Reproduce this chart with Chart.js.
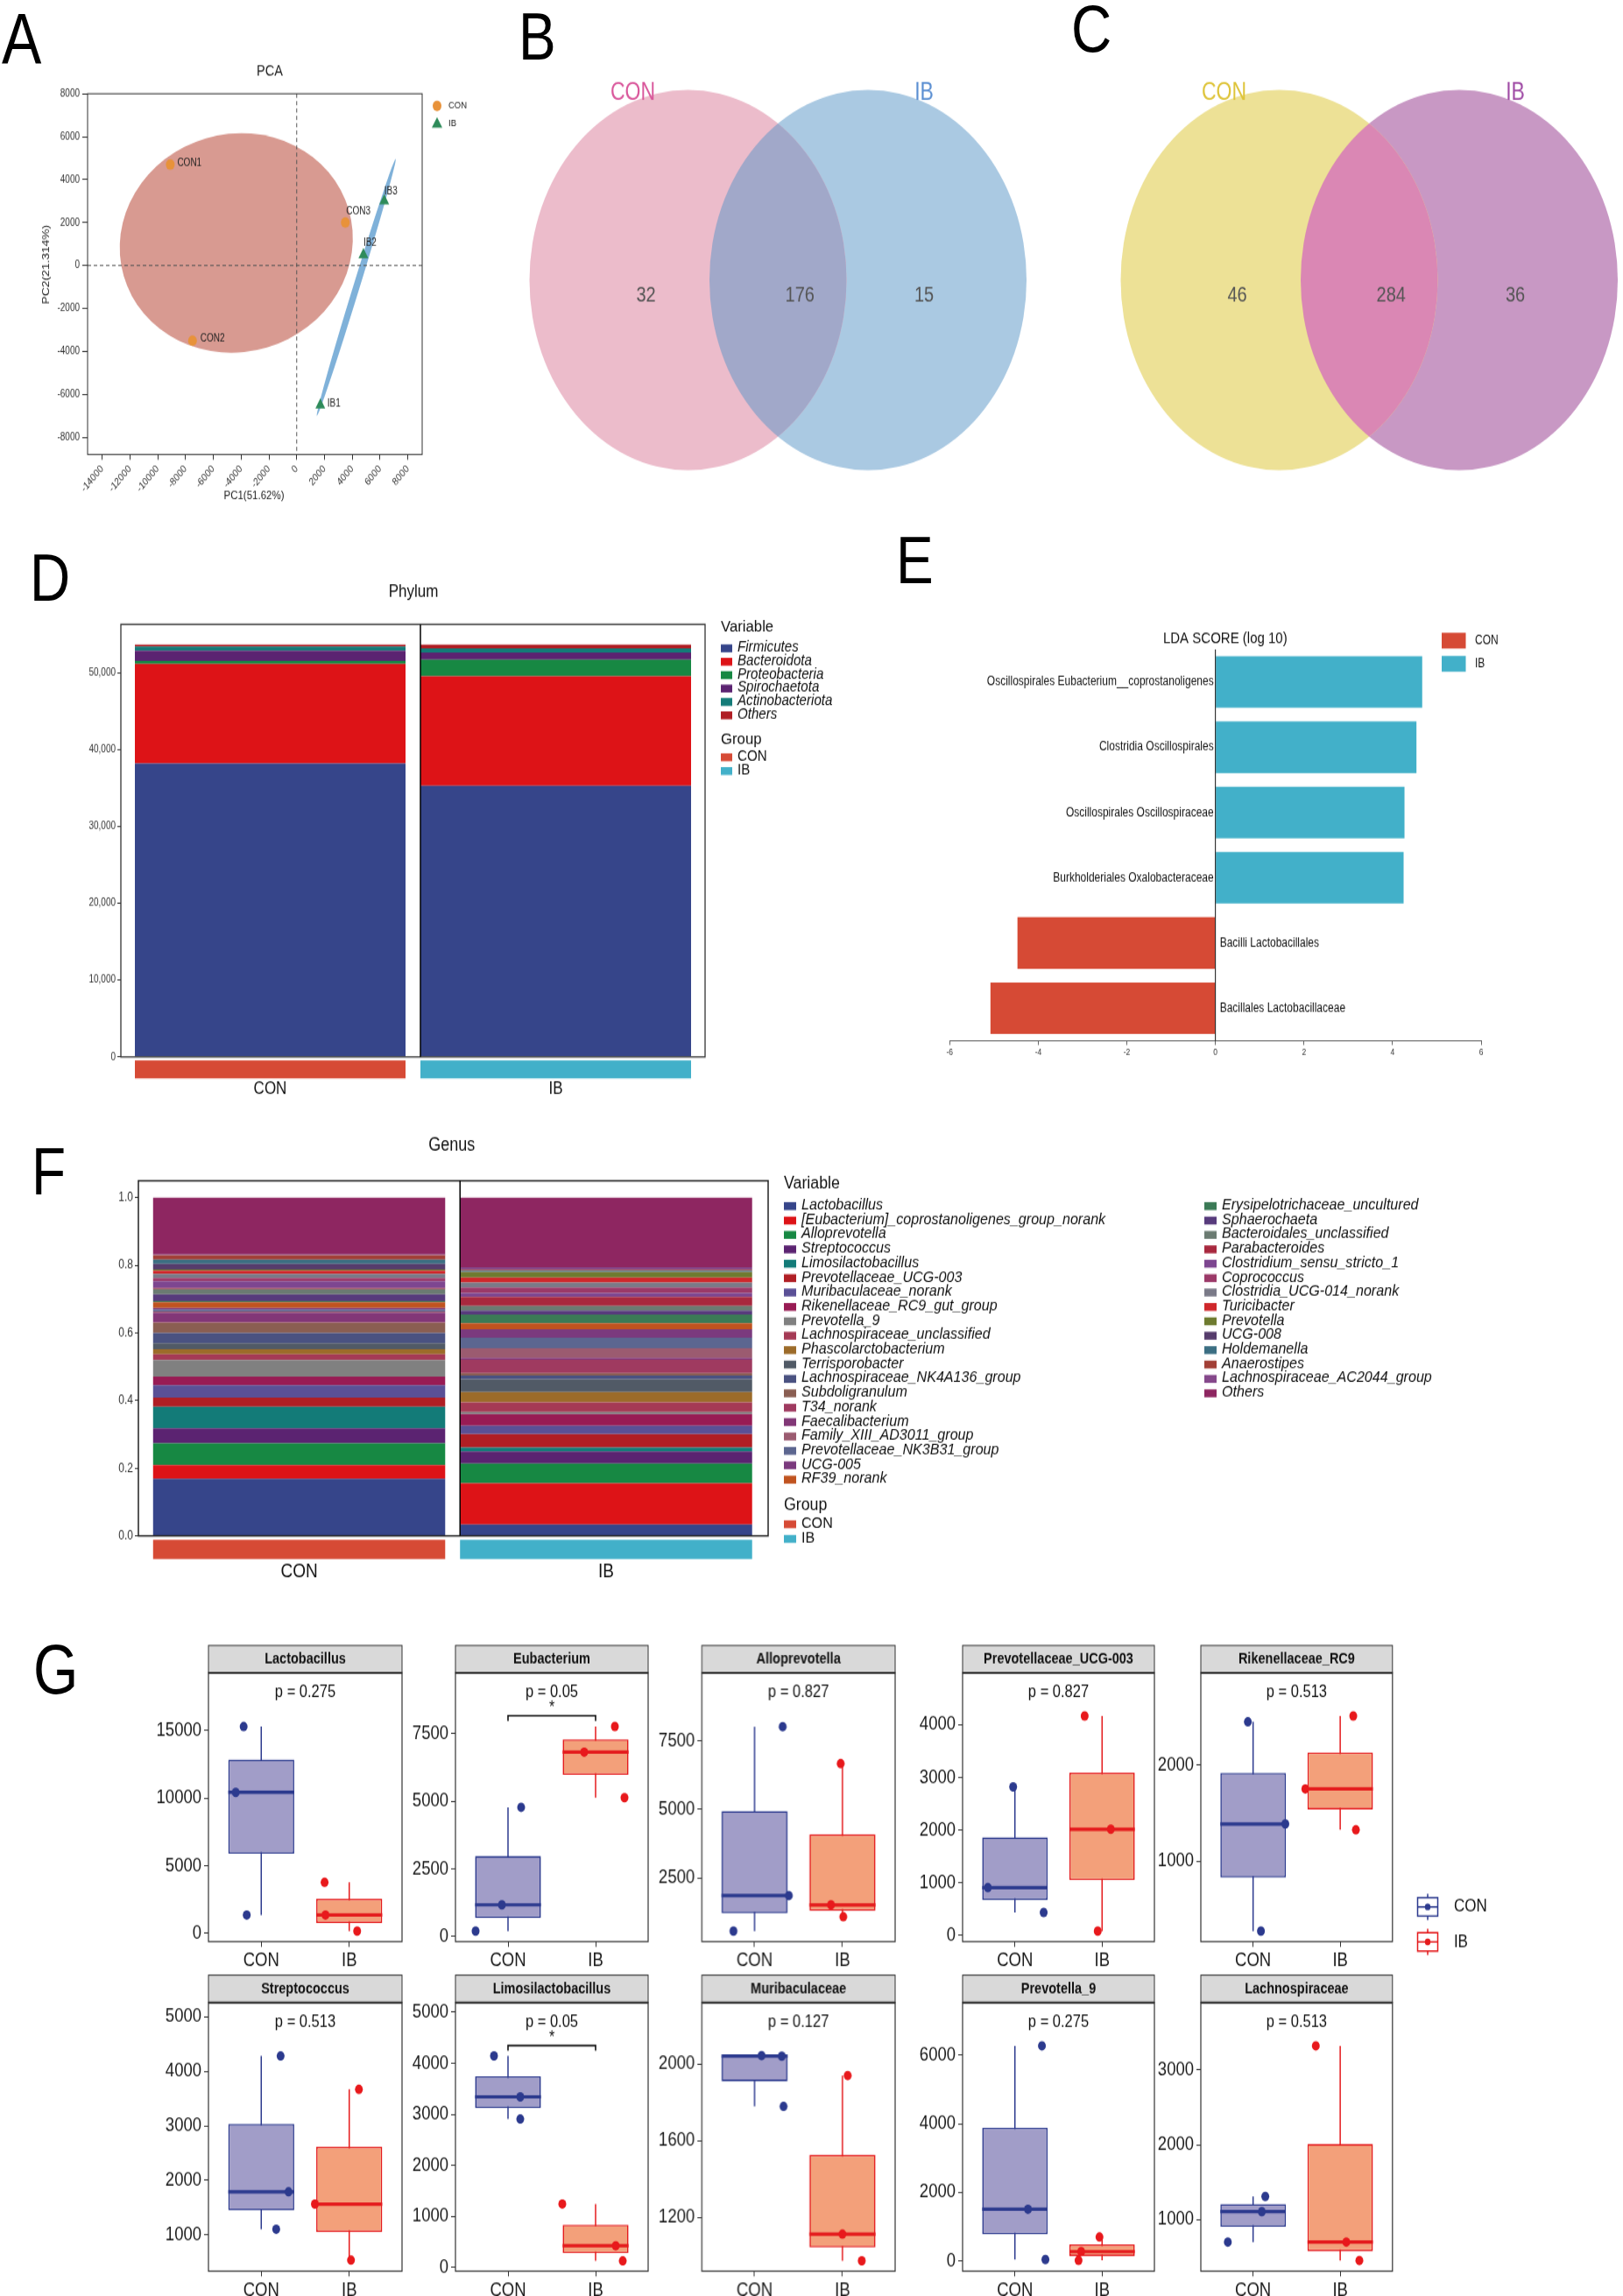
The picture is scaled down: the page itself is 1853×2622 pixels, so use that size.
<!DOCTYPE html>
<html>
<head>
<meta charset="utf-8">
<script src="https://cdn.jsdelivr.net/npm/chart.js@4.4.1/dist/chart.umd.min.js"></script>
<style>
  html, body { margin: 0; padding: 0; background: #fff; }
  body { width: 1853px; height: 2622px; overflow: hidden; }
  #stage { position: relative; width: 1853px; height: 2185px; transform: scaleY(1.2); transform-origin: 0 0;
           font-family: 'Liberation Sans', Arial, sans-serif; }
  #stage canvas { position: absolute; }
  .lt { position: absolute; line-height: 1; color: #000; }
</style>
</head>
<body>
<div id="stage"></div>
<script>
// ---------- data ----------
const groups = ['CON', 'IB'];

// A - PCA
const pcaCON = [[-9100, 4700], [-7500, -3500], [3500, 2000]];
const pcaIB = [[1700, -6500], [4800, 500], [6300, 3000]];
const pcaNamesCON = ['CON1', 'CON2', 'CON3'];
const pcaNamesIB = ['IB1', 'IB2', 'IB3'];
const pcaXTicks = [-14000, -12000, -10000, -8000, -6000, -4000, -2000, 0, 2000, 4000, 6000, 8000];
const pcaYTicks = [-8000, -6000, -4000, -2000, 0, 2000, 4000, 6000, 8000];
const pcaEllCON = [-4350, 1050, 8400, 5100, -5];   // centre x, centre y, half axis x, half axis y, tilt
const pcaEllIB = [1450, -7000, 7120, 4960, 230];   // ends of long axis, half width

// B, C - Venn counts (CON only, shared, IB only)
const vennB = [32, 176, 15];
const vennC = [46, 284, 36];

// D - phylum
const phylumNames = ['Firmicutes', 'Bacteroidota', 'Proteobacteria', 'Spirochaetota', 'Actinobacteriota', 'Others'];
const phylumCON = [38200, 12930, 390, 1320, 560, 240];
const phylumIB = [35270, 14250, 2180, 900, 570, 470];
const phylumTicks = [0, 10000, 20000, 30000, 40000, 50000];

// E - LEfSe
const ldaTaxa = ['Oscillospirales Eubacterium__coprostanoligenes', 'Clostridia Oscillospirales',
  'Oscillospirales Oscillospiraceae', 'Burkholderiales Oxalobacteraceae', 'Bacilli Lactobacillales',
  'Bacillales Lactobacillaceae'];
const ldaScore = [4.67, 4.54, 4.27, 4.25, -4.47, -5.08];
const ldaGroup = ['IB', 'IB', 'IB', 'IB', 'CON', 'CON'];
const ldaTicks = [-6, -4, -2, 0, 2, 4, 6];

// F - genus
const genusNames = ['Lactobacillus', '[Eubacterium]_coprostanoligenes_group_norank', 'Alloprevotella', 'Streptococcus',
  'Limosilactobacillus', 'Prevotellaceae_UCG-003', 'Muribaculaceae_norank', 'Rikenellaceae_RC9_gut_group',
  'Prevotella_9', 'Lachnospiraceae_unclassified', 'Phascolarctobacterium', 'Terrisporobacter',
  'Lachnospiraceae_NK4A136_group', 'Subdoligranulum', 'T34_norank', 'Faecalibacterium',
  'Family_XIII_AD3011_group', 'Prevotellaceae_NK3B31_group', 'UCG-005', 'RF39_norank',
  'Erysipelotrichaceae_uncultured', 'Sphaerochaeta', 'Bacteroidales_unclassified', 'Parabacteroides',
  'Clostridium_sensu_stricto_1', 'Coprococcus', 'Clostridia_UCG-014_norank', 'Turicibacter', 'Prevotella',
  'UCG-008', 'Holdemanella', 'Anaerostipes', 'Lachnospiraceae_AC2044_group', 'Others'];
const genusCON = [0.169, 0.040, 0.065, 0.044, 0.064, 0.027, 0.036, 0.026, 0.049, 0.017, 0.015, 0.018, 0.030, 0.030,
  0.002, 0.028, 0.004, 0.005, 0.005, 0.017, 0.004, 0.019, 0.016, 0.003, 0.020, 0.009, 0.013, 0.009, 0.004, 0.016,
  0.013, 0.013, 0.002, 0.168];
const genusIB = [0.034, 0.122, 0.058, 0.036, 0.011, 0.040, 0.025, 0.034, 0.006, 0.029, 0.030, 0.038, 0.011, 0.007,
  0.040, 0.005, 0.029, 0.031, 0.025, 0.018, 0.025, 0.012, 0.014, 0.026, 0.012, 0.016, 0.015, 0.015, 0.016, 0.002,
  0.002, 0.003, 0.007, 0.206];
const genusTicks = [0, 0.2, 0.4, 0.6, 0.8, 1.0];

// G - box plots (three samples per group)
const gTitles = ['Lactobacillus', 'Eubacterium', 'Alloprevotella', 'Prevotellaceae_UCG-003', 'Rikenellaceae_RC9',
  'Streptococcus', 'Limosilactobacillus', 'Muribaculaceae', 'Prevotella_9', 'Lachnospiraceae'];
const gP = ['0.275', '0.05', '0.827', '0.827', '0.513', '0.513', '0.05', '0.127', '0.275', '0.513'];
const gStar = [false, true, false, false, false, false, true, false, false, false];
const gCON = [[15300, 10430, 1360], [4773, 1166, 194], [8018, 1860, 562], [2820, 909, 438], [2449, 1386, 271],
  [4278, 1791, 1107], [4144, 3343, 2909], [2043, 2040, 1778], [6270, 1506, 41], [1308, 1105, 698]];
const gIB = [[3775, 1360, 170], [7762, 6813, 5129], [6669, 1519, 1085], [4167, 2017, 83], [2510, 1751, 1325],
  [3667, 1566, 540], [1246, 429, 131], [1939, 1113, 974], [697, 271, 15], [3323, 698, 452]];
const gJitCON = [[-0.20, -0.29, -0.165], [0.15, -0.07, -0.37], [0.32, 0.39, -0.24], [-0.02, -0.31, 0.33],
  [-0.06, 0.37, 0.09], [0.22, 0.31, 0.17], [-0.16, 0.14, 0.14], [0.08, 0.31, 0.33], [0.31, 0.15, 0.35],
  [0.14, 0.10, -0.29]];
const gJitIB = [[-0.28, -0.27, 0.09], [0.22, -0.13, 0.33], [-0.02, -0.13, 0.01], [-0.20, 0.10, -0.05],
  [0.15, -0.40, 0.18], [0.11, -0.39, 0.02], [-0.38, 0.23, 0.31], [0.06, 0.0, 0.22], [-0.03, -0.24, -0.27],
  [-0.28, 0.07, 0.22]];
const gYmin = [-608, -194, 179, -116, 161, 338, -69, 920, -299, 309];
const gYmax = [19275, 9747, 9981, 4986, 2960, 5257, 5189, 2319, 7532, 3902];
const gTicks = [[0, 5000, 10000, 15000], [0, 2500, 5000, 7500], [2500, 5000, 7500], [0, 1000, 2000, 3000, 4000],
  [1000, 2000], [1000, 2000, 3000, 4000, 5000], [0, 1000, 2000, 3000, 4000, 5000], [1200, 1600, 2000],
  [0, 2000, 4000, 6000], [1000, 2000, 3000]];

// ---------- styles ----------
const phylumColors = ['#36458A', '#DD1317', '#178843', '#5B2371', '#137B78', '#B01E24'];
const genusColors = ['#36458A', '#DD1317', '#178843', '#5B2371', '#137B78', '#B01E24', '#5A5096', '#981B54',
  '#808080', '#A53A55', '#9C6B29', '#515A66', '#4A5281', '#8A5E52', '#9F3A60', '#823777', '#9B5B70', '#5C6690',
  '#7B3A7E', '#C0531F', '#3B7A56', '#573B7C', '#6B7B72', '#A8283E', '#7D4690', '#9B3968', '#7A7A88', '#CF272B',
  '#6E7B2F', '#563C6C', '#3B6E82', '#A23F36', '#85488B', '#8E2661'];
const grpColor = { CON: '#D64A35', IB: '#42B0C9' };
const conLine = '#2C3A8E', conFill = '#A19DC8', ibLine = '#E41A1C', ibFill = '#F3A07A';

const K = 1.2;   // the figure is stretched a little in height
const FF = "'Liberation Sans', Arial, sans-serif";
const stage = document.getElementById('stage');
Chart.defaults.font.family = FF;
Chart.defaults.color = '#222';

function letter(ch, x, capTop, fs) {
  const d = document.createElement('div');
  d.className = 'lt';
  d.textContent = ch;
  d.style.left = x + 'px';
  d.style.top = (capTop / K - 0.13 * fs) + 'px';
  d.style.fontSize = fs + 'px';
  stage.appendChild(d);
}

// hs: horizontal stretch of the text
function txt(ctx, s, x, y, font, color, align, base, hs) {
  ctx.save();
  ctx.font = font + ' ' + FF;
  ctx.fillStyle = color || '#222';
  ctx.textAlign = align || 'center';
  ctx.textBaseline = base || 'middle';
  ctx.translate(x, y);
  if (hs) ctx.scale(hs, 1);
  ctx.fillText(s, 0, 0);
  ctx.restore();
}

const fixTicks = arr => s => { s.ticks = arr.map(v => ({ value: v })); };

function axis(min, max, ticks, size, tickOpts, more) {
  return Object.assign({
    type: 'linear', min, max, offset: false, beginAtZero: false,
    afterBuildTicks: fixTicks(ticks),
    ticks: Object.assign({ font: { size }, color: '#222', autoSkip: false, padding: 3, callback: v => String(v) }, tickOpts || {}),
    grid: { drawOnChartArea: false, drawTicks: true, tickLength: 5, color: '#333', offset: false },
    border: { display: false }
  }, more || {});
}

// rect and area in page pixels: [x, y, w, h]
function make(rect, area, cfg, hooks) {
  const [rx, ry, rw, rh] = rect, [ax, ay, aw, ah] = area;
  const c = document.createElement('canvas');
  const ih = Math.round(rh / K);
  c.width = rw; c.height = ih;
  c.style.left = rx + 'px'; c.style.top = (ry / K) + 'px';
  c.style.width = rw + 'px'; c.style.height = ih + 'px';
  stage.appendChild(c);
  const L = ax - rx, T = (ay - ry) / K, R = rx + rw - ax - aw, B = ih - (ay + ah - ry) / K;
  const o = cfg.options = cfg.options || {};
  o.responsive = false; o.animation = false; o.devicePixelRatio = 1; o.events = [];
  o.layout = { autoPadding: false, padding: { left: 0, top: T, right: R, bottom: 0 } };
  o.plugins = { legend: { display: false }, tooltip: { enabled: false } };
  const sx = o.scales.x, sy = o.scales.y;
  if (sx.display === false) o.layout.padding.bottom = B;
  else sx.afterFit = s => { s.height = B; s.paddingLeft = 0; s.paddingRight = 0; };
  if (sy.display === false) o.layout.padding.left = L;
  else sy.afterFit = s => { s.width = L; s.paddingTop = 0; s.paddingBottom = 0; };
  const X = x => x - rx, Y = y => (y - ry) / K;
  cfg.plugins = [{
    id: 'deco',
    beforeDatasetsDraw(ch) { if (hooks.before) { ch.ctx.save(); hooks.before(ch.ctx, X, Y, ch); ch.ctx.restore(); } },
    afterDraw(ch) { if (hooks.after) { ch.ctx.save(); hooks.after(ch.ctx, X, Y, ch); ch.ctx.restore(); } }
  }];
  return new Chart(c, cfg);
}

function frame(ctx, a, color, w) {
  ctx.strokeStyle = color; ctx.lineWidth = w;
  ctx.strokeRect(a.left, a.top, a.right - a.left, a.bottom - a.top);
}

// ---------- A: PCA ----------
const pcaLabelOff = { CON1: [8, -2], CON2: [9, -2], CON3: [1, -13], IB1: [8, -2], IB2: [0, -13], IB3: [0, -11] };
make([0, 60, 560, 540], [100, 107, 382, 412], {
  type: 'scatter',
  data: { datasets: [
    { data: pcaCON.map(p => ({ x: p[0], y: p[1] })), pointStyle: 'circle', pointRadius: 5,
      pointBackgroundColor: '#E8923A', pointBorderWidth: 0 },
    { data: pcaIB.map(p => ({ x: p[0], y: p[1] })), pointStyle: 'triangle', pointRadius: 6.5,
      pointBackgroundColor: '#2E8B5A', pointBorderWidth: 0 }
  ] },
  options: { scales: {
    x: axis(-15050, 9030, pcaXTicks, 10, { minRotation: 45, maxRotation: 45, color: '#333' }, { grid: { drawOnChartArea: false, tickLength: 5, color: '#333' } }),
    y: axis(-8800, 8000, pcaYTicks, 10, { color: '#333' }, { grid: { drawOnChartArea: false, tickLength: 6, color: '#333' } })
  } }
}, {
  before(ctx, X, Y, ch) {
    const xs = ch.scales.x, ys = ch.scales.y, a = ch.chartArea;
    const cx = xs.getPixelForValue(pcaEllCON[0]), cy = ys.getPixelForValue(pcaEllCON[1]);
    const erx = Math.abs(xs.getPixelForValue(pcaEllCON[0] + pcaEllCON[2]) - cx);
    const ery = Math.abs(ys.getPixelForValue(pcaEllCON[1] + pcaEllCON[3]) - cy);
    ctx.fillStyle = '#D89A91';
    ctx.beginPath(); ctx.ellipse(cx, cy, erx, ery, pcaEllCON[4] * Math.PI / 180, 0, 2 * Math.PI); ctx.fill();
    const x1 = xs.getPixelForValue(pcaEllIB[0]), y1 = ys.getPixelForValue(pcaEllIB[1]);
    const x2 = xs.getPixelForValue(pcaEllIB[2]), y2 = ys.getPixelForValue(pcaEllIB[3]);
    const hw = Math.abs(xs.getPixelForValue(pcaEllIB[4]) - xs.getPixelForValue(0));
    ctx.fillStyle = '#7FB1D9';
    ctx.beginPath();
    ctx.ellipse((x1 + x2) / 2, (y1 + y2) / 2, Math.hypot(x2 - x1, y2 - y1) / 2, hw, Math.atan2(y2 - y1, x2 - x1), 0, 2 * Math.PI);
    ctx.fill();
    ctx.strokeStyle = '#555'; ctx.lineWidth = 1; ctx.setLineDash([4, 3]);
    const x0 = xs.getPixelForValue(0), y0 = ys.getPixelForValue(0);
    ctx.beginPath(); ctx.moveTo(x0, a.top); ctx.lineTo(x0, a.bottom); ctx.moveTo(a.left, y0); ctx.lineTo(a.right, y0); ctx.stroke();
  },
  after(ctx, X, Y, ch) {
    const xs = ch.scales.x, ys = ch.scales.y;
    frame(ctx, ch.chartArea, '#333', 1);
    const lab = (names, pts) => pts.forEach((p, k) => {
      const o = pcaLabelOff[names[k]];
      txt(ctx, names[k], xs.getPixelForValue(p[0]) + o[0], ys.getPixelForValue(p[1]) + o[1] / K, '10px', '#222', 'left');
    });
    lab(pcaNamesCON, pcaCON); lab(pcaNamesIB, pcaIB);
    txt(ctx, 'PCA', X(308), Y(82), '14.5px', '#222');
    txt(ctx, 'PC1(51.62%)', X(290), Y(566), '11.5px', '#222');
    ctx.save(); ctx.translate(X(53), Y(302)); ctx.rotate(-Math.PI / 2);
    txt(ctx, 'PC2(21.314%)', 0, 0, '11.5px', '#222'); ctx.restore();
    ctx.fillStyle = '#E8923A'; ctx.beginPath(); ctx.arc(X(499), Y(121), 5, 0, 2 * Math.PI); ctx.fill();
    ctx.fillStyle = '#2E8B5A'; ctx.beginPath();
    ctx.moveTo(X(499), Y(141) - 6); ctx.lineTo(X(499) + 6, Y(141) + 4); ctx.lineTo(X(499) - 6, Y(141) + 4); ctx.closePath(); ctx.fill();
    txt(ctx, 'CON', X(512), Y(121), '9.5px', '#222', 'left');
    txt(ctx, 'IB', X(512), Y(141), '9.5px', '#222', 'left');
  }
});

// ---------- B, C: Venn ----------
function venn(rect, counts, g) {
  const [rx, ry, rw, rh] = rect;
  make(rect, rect, {
    type: 'bubble',
    data: { datasets: [
      { data: [{ x: g.c1, y: g.cy, r: g.r }], backgroundColor: g.col1, borderWidth: 0 },
      { data: [{ x: g.c2, y: g.cy, r: g.r }], backgroundColor: g.col2, borderWidth: 0 }
    ] },
    options: { scales: {
      x: { type: 'linear', display: false, min: rx, max: rx + rw },
      y: { type: 'linear', display: false, reverse: true, min: ry, max: ry + rh }
    } }
  }, {
    after(ctx, X, Y, ch) {
      const xs = ch.scales.x, ys = ch.scales.y;
      const x1 = xs.getPixelForValue(g.c1), x2 = xs.getPixelForValue(g.c2), y0 = ys.getPixelForValue(g.cy);
      ctx.save();
      ctx.beginPath(); ctx.arc(x1, y0, g.r, 0, 2 * Math.PI); ctx.clip();
      ctx.fillStyle = g.mid; ctx.beginPath(); ctx.arc(x2, y0, g.r, 0, 2 * Math.PI); ctx.fill();
      ctx.restore();
      const yc = Y(338);
      txt(ctx, String(counts[0]), x1 - 48, yc, '20px', '#555');
      txt(ctx, String(counts[1]), (x1 + x2) / 2 + 25, yc, '20px', '#555');
      txt(ctx, String(counts[2]), x2 + 64, yc, '20px', '#555');
      txt(ctx, groups[0], x1 - 63, Y(106), '23px', g.t1);
      txt(ctx, groups[1], x2 + 64, Y(106), '23px', g.t2);
    }
  });
}
venn([560, 60, 630, 520], vennB, { c1: 785.5, c2: 991, cy: 320, r: 181, col1: '#ECBCCB', col2: '#AAC9E2', mid: '#A1A8C9', t1: '#D9579B', t2: '#5B8FD2' });
venn([1190, 60, 663, 520], vennC, { c1: 1460.5, c2: 1666, cy: 320, r: 181, col1: '#EDE196', col2: '#C898C4', mid: '#DA87B4', t1: '#DEC43A', t2: '#A04DA6' });

// ---------- D: phylum stacked bars ----------
function groupStrip(ctx, X, Y, ch, thick, y1, y2, ylab, fs) {
  const xs = ch.scales.x;
  groups.forEach((gname, k) => {
    const cx = xs.getPixelForValue(k + 1);
    ctx.fillStyle = grpColor[gname];
    ctx.fillRect(cx - thick / 2, Y(y1), thick, Y(y2) - Y(y1));
    txt(ctx, gname, cx, Y(ylab), fs, '#111');
  });
}
function legendBlock(ctx, X, Y, x, title, yTitle, names, colors, y0, step, fs, italic, sq, hs) {
  if (title) txt(ctx, title, X(x), Y(yTitle), (fs + 1.5) + 'px', '#111', 'left', 'middle', hs);
  names.forEach((n, k) => {
    const yy = y0 + k * step;
    ctx.fillStyle = colors[k];
    ctx.fillRect(X(x), Y(yy - sq[1] / 2 + 1), sq[0], sq[1] / K);
    txt(ctx, n, X(x + sq[0] + 6), Y(yy), (italic ? 'italic ' : '') + fs + 'px', '#111', 'left', 'middle', hs);
  });
}

make([0, 600, 1000, 660], [138, 713, 667, 494], {
  type: 'bar',
  data: { datasets: phylumNames.map((n, k) => ({
    label: n, data: [{ x: 1, y: phylumCON[k] }, { x: 2, y: phylumIB[k] }],
    backgroundColor: phylumColors[k], borderWidth: 0, barThickness: 309, inflateAmount: 0
  })) },
  options: { scales: {
    x: { type: 'linear', display: false, min: 0.477, max: 2.523, stacked: true, offset: false },
    y: axis(0, 56280, phylumTicks, 10, { callback: v => v.toLocaleString('en-US'), color: '#333', padding: 2 },
      { stacked: true, grid: { drawOnChartArea: false, tickLength: 4, color: '#333' } })
  } }
}, {
  after(ctx, X, Y, ch) {
    const a = ch.chartArea, xs = ch.scales.x;
    frame(ctx, a, '#333', 1.3);
    const dv = xs.getPixelForValue(2) - 309 / 2;
    ctx.strokeStyle = '#000'; ctx.lineWidth = 1.5;
    ctx.beginPath(); ctx.moveTo(dv, a.top); ctx.lineTo(dv, a.bottom); ctx.stroke();
    groupStrip(ctx, X, Y, ch, 309, 1211, 1231.5, 1244, '17px');
    txt(ctx, 'Phylum', X(472), Y(676), '17px', '#111');
    legendBlock(ctx, X, Y, 823, 'Variable', 716.6, phylumNames, phylumColors, 739.4, 15.3, 14, true, [13, 9], 1.08);
    legendBlock(ctx, X, Y, 823, 'Group', 843.9, groups, [grpColor.CON, grpColor.IB], 863.8, 15.7, 14, false, [13, 9], 1.08);
  }
});

// ---------- E: LDA ----------
make([1000, 600, 853, 640], [1084.3, 741.6, 606.7, 447], {
  type: 'bar',
  data: { labels: ldaTaxa, datasets: [{
    data: ldaScore, backgroundColor: ldaGroup.map(g => grpColor[g]), borderWidth: 0,
    barPercentage: 0.79, categoryPercentage: 1.0
  }] },
  options: { indexAxis: 'y', scales: {
    y: { type: 'category', display: false, offset: true },
    x: axis(-6, 6, ldaTicks, 8.5, { color: '#333', padding: 2 },
      { grid: { drawOnChartArea: false, tickLength: 4, color: '#666' }, border: { display: true, color: '#666', width: 1 } })
  } }
}, {
  after(ctx, X, Y, ch) {
    const a = ch.chartArea, xs = ch.scales.x, ys = ch.scales.y, x0 = xs.getPixelForValue(0);
    ctx.strokeStyle = '#111'; ctx.lineWidth = 1;
    ctx.beginPath(); ctx.moveTo(x0, a.top); ctx.lineTo(x0, a.bottom); ctx.stroke();
    ldaTaxa.forEach((t, k) => {
      const yy = ys.getPixelForValue(k);
      if (ldaScore[k] > 0) txt(ctx, t, x0 - 2, yy, '12px', '#111', 'right');
      else txt(ctx, t, x0 + 5, yy, '12px', '#111', 'left');
    });
    txt(ctx, 'LDA SCORE (log 10)', X(1398.8), Y(729), '15px', '#111');
    groups.forEach((g, k) => {
      ctx.fillStyle = grpColor[g];
      ctx.fillRect(X(1646), Y(722.6 + k * 26.5), 27.5, 18 / K);
      txt(ctx, g, X(1684), Y(731.5 + k * 26.5), '12px', '#111', 'left');
    });
  }
});

// ---------- F: genus stacked bars ----------
make([0, 1280, 1853, 550], [158, 1348, 719, 405.5], {
  type: 'bar',
  data: { datasets: genusNames.map((n, k) => ({
    label: n, data: [{ x: 1, y: genusCON[k] }, { x: 2, y: genusIB[k] }],
    backgroundColor: genusColors[k], borderWidth: 0, barThickness: 333.5, inflateAmount: 0
  })) },
  options: { scales: {
    x: { type: 'linear', display: false, min: 0.4763, max: 2.528, stacked: true, offset: false },
    y: axis(0, 1.05, genusTicks, 12, { callback: v => v.toFixed(1), color: '#333', padding: 2 },
      { stacked: true, grid: { drawOnChartArea: false, tickLength: 4, color: '#333' } })
  } }
}, {
  after(ctx, X, Y, ch) {
    const a = ch.chartArea, xs = ch.scales.x;
    frame(ctx, a, '#222', 1.5);
    const dv = xs.getPixelForValue(2) - 333.5 / 2;
    ctx.strokeStyle = '#000'; ctx.lineWidth = 1.5;
    ctx.beginPath(); ctx.moveTo(dv, a.top); ctx.lineTo(dv, a.bottom); ctx.stroke();
    groupStrip(ctx, X, Y, ch, 333.5, 1758, 1780, 1794, '19px');
    txt(ctx, 'Genus', X(515.8), Y(1307.5), '18px', '#111');
    legendBlock(ctx, X, Y, 895, 'Variable', 1352, genusNames.slice(0, 20), genusColors.slice(0, 20), 1376, 16.44, 14.5, true, [14, 9], 1.11);
    legendBlock(ctx, X, Y, 1375, null, 0, genusNames.slice(20), genusColors.slice(20), 1376, 16.44, 14.5, true, [14, 9], 1.11);
    legendBlock(ctx, X, Y, 895, 'Group', 1719, groups, [grpColor.CON, grpColor.IB], 1739.3, 16.7, 14.5, false, [14, 9], 1.11);
  }
});

// ---------- G: box plots ----------
const gLeft = [237.5, 519.6, 801.3, 1098.5, 1370.5];
const gWidth = [221, 220.7, 220.7, 219.2, 219.3];

function quant(v, p) {
  const s = [...v].sort((a, b) => a - b);
  const h = (s.length - 1) * p, lo = Math.floor(h), hi = Math.min(lo + 1, s.length - 1);
  return s[lo] + (h - lo) * (s[hi] - s[lo]);
}
const five = v => [0, 0.25, 0.5, 0.75, 1].map(p => quant(v, p));

function boxPanel(i) {
  const col = i % 5, row = i < 5 ? 0 : 1;
  const ax = gLeft[col], aw = gWidth[col];
  const ay = row ? 2287.3 : 1910.7, ab = row ? 2594 : 2217.7;
  const st = row ? 2256 : 1879.5;
  const rx = ax - 80, ry = row ? 2248 : 1870;
  const rw = col === 4 ? 1725 - rx : aw + 88;
  const rh = row ? 374 : 385;
  const bw = 0.75 * aw / 2.2;
  const sc = five(gCON[i]), si = five(gIB[i]);
  make([rx, ry, rw, rh], [ax, ay, aw, ab - ay], {
    type: 'bar',
    data: { datasets: [
      { type: 'scatter', showLine: false, data: gCON[i].map((v, k) => ({ x: 1 + gJitCON[i][k], y: v })),
        pointRadius: 4.5, pointBackgroundColor: conLine, pointBorderWidth: 0, order: 1 },
      { type: 'scatter', showLine: false, data: gIB[i].map((v, k) => ({ x: 2 + gJitIB[i][k], y: v })),
        pointRadius: 4.5, pointBackgroundColor: '#E8191C', pointBorderWidth: 0, order: 1 },
      { type: 'scatter', showLine: false, data: [{ x: 1, y: sc[2] }, { x: 2, y: si[2] }], pointStyle: 'line',
        pointRadius: bw / 2, pointBorderColor: [conLine, ibLine], pointBorderWidth: 3.2, order: 2 },
      { type: 'bar', data: [{ x: 1, y: [sc[1], sc[3]] }, { x: 2, y: [si[1], si[3]] }],
        backgroundColor: [conFill, ibFill], borderColor: [conLine, ibLine], borderWidth: 1.6,
        borderSkipped: false, barThickness: bw, grouped: false, inflateAmount: 0, order: 3 },
      { type: 'bar', data: [{ x: 1, y: [sc[0], sc[4]] }, { x: 2, y: [si[0], si[4]] }],
        backgroundColor: [conLine, ibLine], borderWidth: 0, barThickness: 1.5, grouped: false,
        inflateAmount: 0, order: 4 }
    ] },
    options: { scales: {
      x: axis(0.4, 2.6, [1, 2], 18.5, { callback: v => groups[v - 1], padding: 2, color: '#1a1a1a' }),
      y: axis(gYmin[i], gYmax[i], gTicks[i], 18.5, { padding: 3, color: '#1a1a1a' })
    } }
  }, {
    after(ctx, X, Y, ch) {
      const a = ch.chartArea, xs = ch.scales.x;
      frame(ctx, a, '#333', 1.2);
      ctx.fillStyle = '#D9D9D9';
      ctx.fillRect(a.left, Y(st), a.right - a.left, a.top - Y(st));
      ctx.strokeStyle = '#333'; ctx.lineWidth = 1;
      ctx.strokeRect(a.left, Y(st), a.right - a.left, a.top - Y(st));
      ctx.lineWidth = 2; ctx.beginPath(); ctx.moveTo(a.left, a.top); ctx.lineTo(a.right, a.top); ctx.stroke();
      const mx = (a.left + a.right) / 2;
      txt(ctx, gTitles[i], mx, (Y(st) + a.top) / 2, 'bold 14.5px', '#111');
      txt(ctx, 'p = ' + gP[i], mx, Y(ay + 22), '16.5px', '#111');
      if (gStar[i]) {
        const x1 = xs.getPixelForValue(1), x2 = xs.getPixelForValue(2), yb = Y(ay + 49), yt = Y(ay + 55);
        ctx.strokeStyle = '#111'; ctx.lineWidth = 1.6;
        ctx.beginPath(); ctx.moveTo(x1, yt); ctx.lineTo(x1, yb); ctx.lineTo(x2, yb); ctx.lineTo(x2, yt); ctx.stroke();
        txt(ctx, '*', mx, Y(ay + 41), '16px', '#111');
      }
      if (i === 4) {
        [[conLine, 2178], [ibLine, 2218]].forEach(([c, yy], k) => {
          ctx.strokeStyle = c; ctx.lineWidth = 1.5;
          ctx.strokeRect(X(1618), Y(yy - 10.5), 23, 21 / K);
          ctx.beginPath();
          ctx.moveTo(X(1629.5), Y(yy - 15)); ctx.lineTo(X(1629.5), Y(yy - 10.5));
          ctx.moveTo(X(1629.5), Y(yy + 10.5)); ctx.lineTo(X(1629.5), Y(yy + 15));
          ctx.moveTo(X(1618), Y(yy)); ctx.lineTo(X(1641), Y(yy));
          ctx.stroke();
          ctx.fillStyle = c; ctx.beginPath(); ctx.arc(X(1629.5), Y(yy), 3.2, 0, 2 * Math.PI); ctx.fill();
          txt(ctx, groups[k], X(1659.4), Y(yy), '17px', '#111', 'left');
        });
      }
    }
  });
}
gTitles.forEach((t, i) => boxPanel(i));

// ---------- panel letters ----------
letter('A', 2, 13, 68);
letter('B', 592, 14, 64);
letter('C', 1223, 4, 64);
letter('D', 34, 632, 64);
letter('E', 1023, 611, 64);
letter('F', 36, 1310, 64);
letter('G', 38, 1877, 66);
</script>
</body>
</html>
